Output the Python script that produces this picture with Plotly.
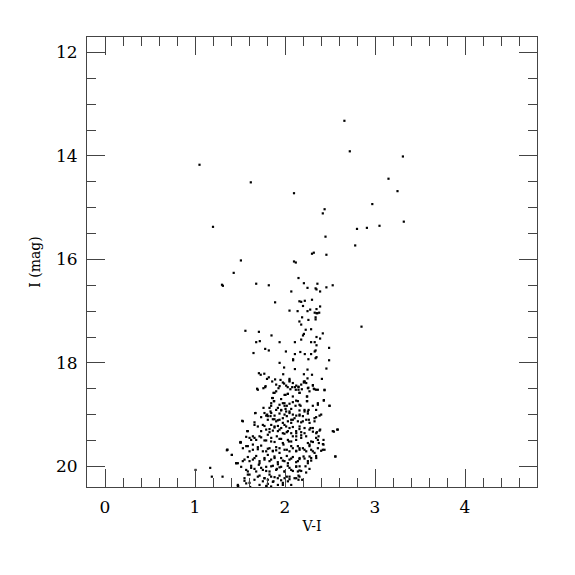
import plotly.graph_objects as go

# Sparse / upper points (V-I, I)
vi_upper = [2.66, 2.72, 1.05, 1.62, 2.10, 2.44, 2.42, 1.20, 2.80, 2.45, 2.78, 1.51, 2.10, 2.12,
            2.30, 2.32, 2.46, 1.43, 1.30, 1.31, 1.68, 1.82, 2.15, 2.21, 2.25, 2.34, 2.36, 2.46, 2.53,
            3.31, 3.15, 3.25, 2.97, 3.32, 2.91, 3.05]
i_upper = [13.32, 13.91, 14.17, 14.51, 14.72, 15.03, 15.11, 15.37, 15.41, 15.56, 15.73, 16.02, 16.04, 16.06,
           15.89, 15.87, 15.91, 16.26, 16.49, 16.51, 16.47, 16.50, 16.36, 16.46, 16.55, 16.56, 16.47, 16.54, 16.50,
           14.01, 14.44, 14.68, 14.93, 15.27, 15.39, 15.35]

# Giant branch, I ~ 16.6 - 18.5
vi_rgb = [2.07, 2.35, 2.39, 1.89, 2.16, 2.18, 2.22, 2.30, 2.20, 2.39, 2.05, 2.14, 2.25, 2.28, 2.35,
          2.33, 2.35, 2.36, 2.38, 2.19, 2.34, 2.26, 2.34, 2.16, 2.18, 2.85, 2.29, 2.23, 1.56, 1.71,
          2.21, 2.20, 2.42, 1.85, 2.35, 2.18, 2.39, 1.68, 1.72, 1.94, 2.11, 2.29, 2.33, 2.35, 2.49,
          1.78, 1.82, 2.01, 1.65, 2.17, 2.34, 2.33, 2.11, 2.22, 2.29, 2.35, 2.34, 2.09, 2.09, 2.26,
          2.49, 1.94, 1.99, 2.11, 2.25, 2.46, 1.71, 1.73, 1.77, 1.98, 2.21, 2.30, 1.82, 1.80, 1.89,
          1.95, 2.05, 2.05, 2.25, 2.22, 2.21, 2.41, 1.99, 1.94, 2.03, 2.08, 2.06, 2.11, 2.12, 2.15,
          2.15, 1.78, 1.76, 1.69, 2.26, 2.31, 2.32]
i_rgb = [16.62, 16.58, 16.62, 16.83, 16.81, 16.82, 16.80, 16.78, 16.90, 16.91, 16.99, 17.00, 17.00, 16.97, 16.96,
         17.03, 17.04, 17.04, 17.03, 17.12, 17.12, 17.17, 17.16, 17.20, 17.26, 17.30, 17.35, 17.36, 17.38, 17.40,
         17.44, 17.47, 17.43, 17.47, 17.50, 17.55, 17.53, 17.60, 17.58, 17.60, 17.60, 17.60, 17.60, 17.66, 17.71,
         17.73, 17.76, 17.78, 17.81, 17.79, 17.76, 17.78, 17.83, 17.83, 17.83, 17.89, 17.91, 17.93, 17.95, 17.93,
         17.95, 18.00, 18.09, 18.12, 18.13, 18.11, 18.20, 18.23, 18.21, 18.22, 18.22, 18.23, 18.28, 18.31, 18.32,
         18.33, 18.31, 18.34, 18.30, 18.36, 18.38, 18.31, 18.40, 18.45, 18.47, 18.47, 18.51, 18.47, 18.52, 18.46,
         18.52, 18.47, 18.49, 18.50, 18.48, 18.43, 18.50]

# Lower dense region, I ~ 18.5 - 20.4 (overview reading)
vi_low = [1.872, 1.902, 2.006, 2.031, 2.161, 2.243, 2.272, 2.346, 2.439, 1.857, 1.957,
          1.880, 1.939, 1.994, 2.020, 2.124, 2.161, 2.243, 2.309, 2.365, 2.431, 2.494, 1.846,
          1.672, 1.761, 1.839, 1.902, 1.957, 2.006, 2.050, 2.161, 2.217, 2.254, 2.346, 2.402, 1.809,
          1.524, 1.661, 1.735, 1.791, 1.839, 1.883, 1.920, 1.976, 2.020, 2.069, 2.106, 2.161, 2.198, 2.265, 2.328, 2.346,
          1.587, 1.698, 1.772, 1.828, 1.883, 1.939, 1.994, 2.020, 2.087, 2.124, 2.161, 2.217, 2.272, 2.309, 2.354, 2.391, 2.531, 2.580,
          1.502, 1.569, 1.624, 1.661, 1.717, 1.772, 1.809, 1.846, 1.909, 1.957, 1.994, 2.043, 2.087, 2.124, 2.180, 2.235, 2.291, 2.346, 2.376, 2.428,
          1.354, 1.409, 1.569, 1.606, 1.643, 1.698, 1.735, 1.791, 1.828, 1.865, 1.902, 1.939, 1.983, 2.020, 2.069, 2.124, 2.161, 2.217, 2.272, 2.309, 2.365, 2.420, 2.428,
          1.457, 1.531, 1.587, 1.643, 1.680, 1.717, 1.772, 1.809, 1.846, 1.883, 1.920, 1.957, 1.994, 2.020, 2.050, 2.087, 2.124, 2.161, 2.206, 2.254, 2.291, 2.346, 2.561,
          1.169, 1.513, 1.587, 1.624, 1.661, 1.709, 1.754, 1.791, 1.828, 1.865, 1.909, 1.957, 1.994, 2.031, 2.069, 2.124, 2.161, 2.228, 2.272, 2.235,
          1.187, 1.306, 1.550, 1.606, 1.661, 1.717, 1.772, 1.809, 1.846, 1.872, 1.920, 1.957, 2.020, 2.050, 2.106, 2.161, 2.191, 2.150,
          1.476, 1.569, 1.613, 1.791, 1.846, 1.976,
          1.006, 1.36, 1.41, 1.46, 1.51, 1.48]
i_low = [18.58, 18.55, 18.62, 18.60, 18.58, 18.65, 18.55, 18.52, 18.52, 18.68, 18.70,
         18.74, 18.81, 18.78, 18.83, 18.73, 18.81, 18.74, 18.83, 18.78, 18.73, 18.83, 18.83,
         18.97, 18.87, 18.94, 18.91, 18.92, 18.89, 18.94, 18.92, 18.91, 18.94, 18.91, 19.00, 19.03,
         19.12, 19.15, 19.05, 19.02, 19.03, 19.09, 19.11, 19.07, 19.03, 19.10, 19.07, 19.02, 19.13, 19.10, 19.13, 19.05,
         19.32, 19.23, 19.22, 19.28, 19.25, 19.29, 19.20, 19.34, 19.24, 19.32, 19.28, 19.36, 19.29, 19.26, 19.34, 19.29, 19.32, 19.29,
         19.54, 19.43, 19.49, 19.45, 19.42, 19.50, 19.39, 19.52, 19.42, 19.47, 19.37, 19.52, 19.42, 19.49, 19.45, 19.42, 19.52, 19.45, 19.55, 19.49,
         19.69, 19.78, 19.61, 19.71, 19.58, 19.67, 19.60, 19.71, 19.65, 19.71, 19.69, 19.65, 19.58, 19.68, 19.61, 19.71, 19.65, 19.68, 19.61, 19.71, 19.65, 19.68, 19.58,
         19.94, 19.90, 19.82, 19.87, 19.80, 19.90, 19.84, 19.78, 19.87, 19.81, 19.92, 19.84, 19.90, 19.80, 19.87, 19.82, 19.92, 19.86, 19.81, 19.90, 19.84, 19.80, 19.81,
         20.03, 20.01, 20.10, 19.99, 20.05, 19.97, 20.07, 20.01, 20.10, 19.99, 20.05, 20.01, 20.10, 19.99, 20.07, 20.01, 20.08, 20.00, 20.05, 20.12,
         20.20, 20.20, 20.23, 20.16, 20.26, 20.18, 20.23, 20.26, 20.20, 20.29, 20.23, 20.27, 20.20, 20.25, 20.23, 20.20, 20.26, 20.18,
         20.38, 20.33, 20.40, 20.38, 20.39, 20.36,
         20.07, 19.68, 19.78, 19.94, 19.54, 20.38]

# Core, left half, I ~ 18.4 - 19.4 (detail reading)
vi_core_a = [1.784, 1.698, 1.858, 1.902, 1.928, 1.976, 2.013, 2.050, 2.087, 1.884, 1.995, 2.032, 1.865, 2.087,
             1.847, 1.876, 1.976, 1.995, 2.050, 2.087, 1.828, 1.921, 1.958, 2.013, 2.069,
             1.669, 1.772, 1.802, 1.847, 1.884, 1.939, 1.995, 2.050, 2.087,
             1.532, 1.809, 1.865, 1.902, 1.939, 1.976, 2.032, 2.069, 2.087,
             1.661, 1.754, 1.847, 1.884, 1.921, 1.958, 2.013, 2.050,
             1.580, 1.735, 1.791, 1.828, 1.865, 1.921, 1.976, 2.032, 2.069]
i_core_a = [18.45, 18.52, 18.36, 18.42, 18.49, 18.38, 18.44, 18.36, 18.39, 18.58, 18.62, 18.60, 18.68, 18.65,
            18.78, 18.74, 18.78, 18.83, 18.79, 18.76, 18.87, 18.87, 18.91, 18.94, 18.89,
            18.97, 18.97, 19.00, 18.97, 19.02, 18.98, 19.00, 18.97, 19.00,
            19.13, 19.10, 19.09, 19.13, 19.10, 19.16, 19.13, 19.16, 19.10,
            19.20, 19.20, 19.20, 19.23, 19.22, 19.26, 19.23, 19.26,
            19.32, 19.32, 19.29, 19.34, 19.31, 19.32, 19.36, 19.32, 19.36]

# Core, left half, I ~ 19.4 - 20.4 (detail reading)
vi_core_b = [1.506, 1.606, 1.643, 1.680, 1.735, 1.791, 1.847, 1.884, 1.939, 1.976, 2.032, 2.069,
             1.358, 1.532, 1.587, 1.643, 1.698, 1.754, 1.809, 1.865, 1.902, 1.939, 1.995, 2.050, 2.087,
             1.476, 1.550, 1.606, 1.661, 1.717, 1.772, 1.828, 1.884, 1.921, 1.976, 2.032, 2.069,
             1.569, 1.624, 1.680, 1.735, 1.791, 1.847, 1.902, 1.939, 1.995, 2.050, 2.087,
             1.587, 1.698, 1.772, 1.828, 1.884, 1.939, 1.995, 2.050,
             1.476, 1.550, 1.606, 1.717, 1.754, 1.809, 1.865, 1.921, 1.976, 2.032, 2.069]
i_core_b = [19.53, 19.45, 19.42, 19.49, 19.44, 19.50, 19.45, 19.53, 19.47, 19.55, 19.49, 19.52,
            19.68, 19.65, 19.61, 19.68, 19.63, 19.71, 19.66, 19.70, 19.63, 19.74, 19.68, 19.71, 19.65,
            19.94, 19.87, 19.90, 19.84, 19.94, 19.87, 19.90, 19.84, 19.96, 19.89, 19.94, 19.85,
            20.07, 20.03, 20.10, 20.03, 20.09, 20.00, 20.07, 20.02, 20.10, 20.03, 20.09,
            20.16, 20.20, 20.23, 20.16, 20.21, 20.18, 20.23, 20.20,
            20.36, 20.28, 20.32, 20.36, 20.29, 20.34, 20.30, 20.36, 20.32, 20.29, 20.36]

# Core, right half (detail reading)
vi_core_c = [2.125, 2.150, 2.180, 2.210, 2.236, 2.187, 2.162, 2.254, 2.310, 2.328, 2.365, 2.439,
             2.247, 2.143, 2.247, 2.365, 2.432, 2.495, 2.117, 2.173, 2.262, 2.217,
             2.125, 2.162, 2.199, 2.254, 2.328, 2.384, 2.143, 2.180, 2.236, 2.273,
             2.162, 2.217, 2.284, 2.310, 2.347, 2.384, 2.543, 2.587, 2.125, 2.180,
             2.125, 2.180, 2.254, 2.273, 2.310, 2.365, 2.373, 2.421, 2.439, 2.402,
             2.143, 2.125, 2.162, 2.199, 2.236, 2.291, 2.328, 2.347, 2.273, 2.291, 2.254,
             2.217, 2.162, 2.143, 2.125, 2.162, 2.143, 2.180, 2.125, 2.150, 2.558]
i_core_c = [18.44, 18.47, 18.42, 18.36, 18.39, 18.51, 18.58, 18.49, 18.44, 18.51, 18.52, 18.53,
            18.65, 18.74, 18.74, 18.81, 18.72, 18.83, 18.83, 18.83, 18.91, 18.94,
            19.02, 19.00, 19.03, 18.98, 19.07, 19.02, 19.13, 19.15, 19.10, 19.16,
            19.23, 19.26, 19.26, 19.33, 19.36, 19.31, 19.33, 19.29, 19.36, 19.34,
            19.42, 19.40, 19.55, 19.58, 19.53, 19.49, 19.42, 19.57, 19.68, 19.70,
            19.61, 19.70, 19.68, 19.65, 19.71, 19.68, 19.74, 19.84, 19.81, 19.89, 19.94,
            19.85, 19.84, 19.90, 20.00, 20.00, 20.10, 20.09, 20.23, 20.26, 19.81]

vi = vi_upper + vi_rgb + vi_low + vi_core_a + vi_core_b + vi_core_c
imag = i_upper + i_rgb + i_low + i_core_a + i_core_b + i_core_c

FONT = "DejaVu Serif"

fig = go.Figure()
fig.add_trace(go.Scatter(
    x=vi, y=imag, mode="markers",
    marker=dict(symbol="square", size=2.2, color="black", line=dict(width=0)),
    hoverinfo="skip", showlegend=False,
))

axis_common = dict(
    showgrid=False, zeroline=False, showline=True, linecolor="#444", linewidth=1,
    mirror="allticks", ticks="inside", tickcolor="#444", tickwidth=1, ticklen=18,
    tickfont=dict(family=FONT, size=17, color="black"),
)

fig.update_xaxes(
    range=[-0.2, 4.8], tick0=0, dtick=1, ticklabelstandoff=5,
    minor=dict(dtick=0.2, ticks="inside", ticklen=9, tickcolor="#444", tickwidth=1, showgrid=False),
    title=dict(text="V-I", font=dict(family=FONT, size=14, color="black"), standoff=4),
    **axis_common,
)
fig.update_yaxes(
    range=[20.4, 11.7], tick0=12, dtick=2, ticklabelstandoff=5,
    minor=dict(dtick=0.5, ticks="inside", ticklen=9, tickcolor="#444", tickwidth=1, showgrid=False),
    title=dict(text="I (mag)", font=dict(family=FONT, size=14, color="black"), standoff=12),
    **axis_common,
)

fig.update_layout(
    width=575, height=575,
    margin=dict(l=79, r=46, t=29, b=96),
    paper_bgcolor="white", plot_bgcolor="white",
)

fig.write_html("out.html")
